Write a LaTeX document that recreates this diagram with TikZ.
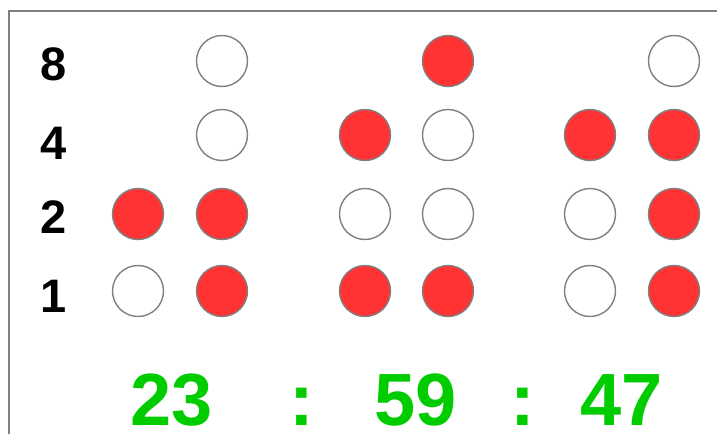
\documentclass[tikz,border=0pt]{standalone}
\usepackage{fontspec}
\setmainfont{Liberation Sans}
\definecolor{ledred}{RGB}{255,51,51}
\definecolor{ledrim}{RGB}{128,128,128}
\definecolor{clockgreen}{RGB}{0,204,0}
\tikzset{
  bit/.style={circle,draw=ledrim,line width=1.4pt,minimum size=51pt,inner sep=0pt},
  on/.style={bit,fill=ledred},
  off/.style={bit,fill=white},
  weight/.style={anchor=base,font=\fontsize{47}{47}\selectfont\bfseries},
  time/.style={anchor=base,inner sep=0pt,text depth=0pt,text=clockgreen,font=\fontsize{74}{74}\selectfont\bfseries}
}
\begin{document}
\begin{tikzpicture}[x=1pt,y=-1pt]
   \useasboundingbox (0,0) rectangle (717,434);
   \coordinate (TL) at (9,11);
   \coordinate (TR) at (717,11);
   \coordinate (BL) at (9,434);
   \draw[ledrim,line width=1.3pt] (TR) -- (TL) -- (BL);

   \node[weight] at (54,80)  (w8) {8};
   \node[weight] at (54,159) (w4) {4};
   \node[weight] at (54,233) (w2) {2};
   \node[weight] at (54,312) (w1) {1};

   % hours 2 3
   \node[on]  at (138,214) (h1b2) {};
   \node[off] at (138,291) (h1b1) {};
   \node[off] at (222,61)  (h2b8) {};
   \node[off] at (222,135) (h2b4) {};
   \node[on]  at (222,214) (h2b2) {};
   \node[on]  at (222,291) (h2b1) {};

   % minutes 5 9
   \node[on]  at (365,135) (m1b4) {};
   \node[off] at (365,214) (m1b2) {};
   \node[on]  at (365,291) (m1b1) {};
   \node[on]  at (448,61)  (m2b8) {};
   \node[off] at (448,135) (m2b4) {};
   \node[off] at (448,214) (m2b2) {};
   \node[on]  at (448,291) (m2b1) {};

   % seconds 4 7
   \node[on]  at (590,135) (s1b4) {};
   \node[off] at (590,214) (s1b2) {};
   \node[off] at (590,291) (s1b1) {};
   \node[off] at (674,61)  (s2b8) {};
   \node[on]  at (674,135) (s2b4) {};
   \node[on]  at (674,214) (s2b2) {};
   \node[on]  at (674,291) (s2b1) {};

   \node[time] at (172,425) (hh) {23};
   \node[time] at (302,425) (c1) {:};
   \node[time] at (416,425) (mm) {59};
   \node[time] at (523,425) (c2) {:};
   \node[time] at (622,425) (ss) {47};
\end{tikzpicture}
\end{document}
